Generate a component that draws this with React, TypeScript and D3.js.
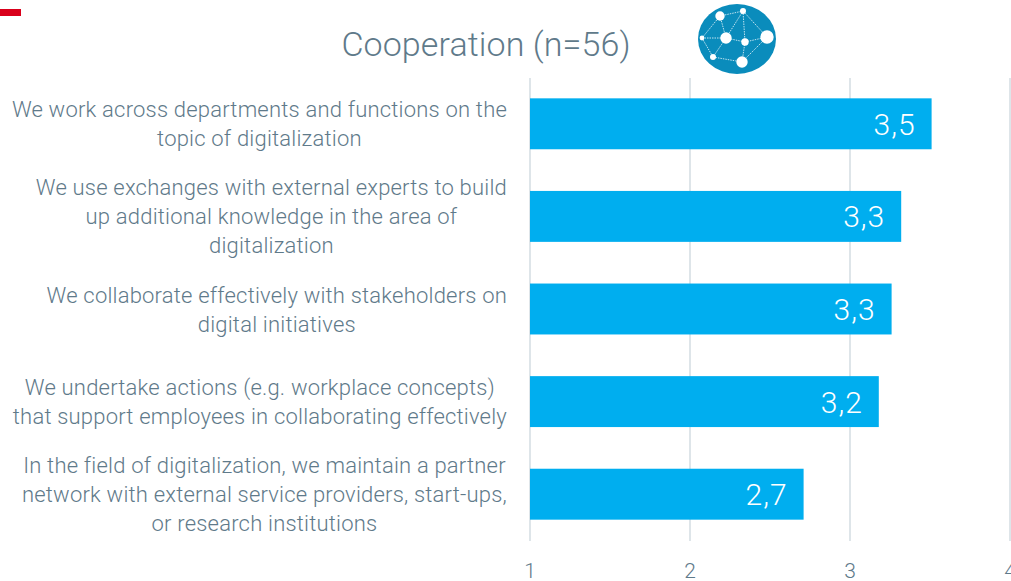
import React, { useEffect, useRef } from 'react'
import * as d3 from 'd3'

const title = 'Cooperation (n=56)'
const categories = ['work', 'experts', 'stakeholders', 'workplace', 'partners']
const labels = [
  ['We work across departments and functions on the', 'topic of digitalization'],
  ['We use exchanges with external experts to build', 'up additional knowledge in the area of', 'digitalization'],
  ['We collaborate effectively with stakeholders on', 'digital initiatives'],
  ['We undertake actions (e.g. workplace concepts)', 'that support employees in collaborating effectively'],
  ['In the field of digitalization, we maintain a partner', 'network with external service providers, start-ups,', 'or research institutions'],
]
const values = [3.51, 3.32, 3.26, 3.18, 2.71]
const valueLabels = ['3,5', '3,3', '3,3', '3,2', '2,7']
const ticks = [1, 2, 3, 4]

// icon nodes, in pixels of the logo
const iconNodes = [
  [40, 16, 4.7], [63, 11, 3], [22, 38, 2.4], [46, 38, 5.7],
  [65, 42, 3.7], [87, 37, 6.7], [33, 57, 3], [62, 62, 5.7],
]
const iconLinks = [
  [0, 1], [0, 2], [0, 3], [1, 3], [1, 4], [1, 5], [2, 3], [2, 6],
  [3, 4], [3, 6], [4, 5], [4, 7], [5, 7], [6, 7],
]

const font = 'Roboto, sans-serif'
const textColor = '#5f7a8a'

const App = () => {
  const svgRef = useRef<SVGSVGElement>(null)

  useEffect(() => {
    const svg = d3.select(svgRef.current)
    svg.selectAll('*').remove()

    const x = d3.scaleLinear().domain([1, 4]).range([530, 1010])
    const y = d3.scaleBand<string>().domain(categories).range([77.5, 540.5]).paddingInner(0.45).paddingOuter(0.225)

    // red mark top left
    svg.append('rect').attr('x', 0).attr('y', 9).attr('width', 21).attr('height', 7).attr('fill', '#d9001b')

    svg.append('text')
      .attr('x', 486).attr('y', 56)
      .attr('text-anchor', 'middle')
      .style('font', `300 34px ${font}`)
      .style('letter-spacing', '0.1px')
      .attr('fill', textColor)
      .text(title)

    // logo
    const icon = svg.append('g').attr('transform', 'translate(680,0)')
    icon.append('ellipse').attr('cx', 57).attr('cy', 39).attr('rx', 39).attr('ry', 35).attr('fill', '#0a8cbc')
    icon.selectAll('line').data(iconLinks).join('line')
      .attr('x1', d => iconNodes[d[0]][0]).attr('y1', d => iconNodes[d[0]][1])
      .attr('x2', d => iconNodes[d[1]][0]).attr('y2', d => iconNodes[d[1]][1])
      .attr('stroke', '#bfe3f0').attr('stroke-width', 1).attr('stroke-dasharray', '1.5 1')
    icon.selectAll('circle').data(iconNodes).join('circle')
      .attr('cx', d => d[0]).attr('cy', d => d[1]).attr('r', d => d[2]).attr('fill', '#fff')

    // grid
    svg.append('g').selectAll('line').data(ticks).join('line')
      .attr('x1', d => x(d)).attr('x2', d => x(d))
      .attr('y1', 78).attr('y2', 541)
      .attr('stroke', '#d3dde2').attr('stroke-width', 1.5)

    svg.append('g').selectAll('text').data(ticks).join('text')
      .attr('x', d => x(d)).attr('y', 578)
      .attr('text-anchor', 'middle')
      .style('font', `300 21px ${font}`)
      .attr('fill', textColor)
      .text(d => d)

    // bars
    svg.append('g').selectAll('rect').data(values).join('rect')
      .attr('x', x(1))
      .attr('y', (d, i) => y(categories[i]) as number)
      .attr('width', d => x(d) - x(1))
      .attr('height', y.bandwidth())
      .attr('fill', '#00aeef')

    svg.append('g').selectAll('text').data(values).join('text')
      .attr('x', d => x(d) - 16)
      .attr('y', (d, i) => (y(categories[i]) as number) + y.bandwidth() / 2 + 11)
      .attr('text-anchor', 'end')
      .style('font', `300 30px ${font}`)
      .style('letter-spacing', '1px')
      .attr('fill', '#fff')
      .text((d, i) => valueLabels[i])

    // category labels, centred lines inside a right aligned block
    const lineH = 29
    labels.forEach((lines, i) => {
      const cy = (y(categories[i]) as number) + y.bandwidth() / 2
      const g = svg.append('g')
      const texts = g.selectAll('text').data(lines).join('text')
        .attr('y', (d, j) => cy + (j - (lines.length - 1) / 2) * lineH + 8)
        .attr('text-anchor', 'middle')
        .style('font', `300 22px ${font}`)
        .style('letter-spacing', '0.2px')
        .attr('fill', textColor)
        .text(d => d)
      let widest = 0
      texts.each(function () {
        widest = Math.max(widest, (this as SVGTextElement).getComputedTextLength())
      })
      texts.attr('x', 507 - widest / 2)
    })
  }, [])

  return (
    <svg
      ref={svgRef}
      width={1011}
      height={581}
      style={{ position: 'absolute', left: 0, top: 0, display: 'block', background: '#fff' }}
    />
  )
}

export default App
